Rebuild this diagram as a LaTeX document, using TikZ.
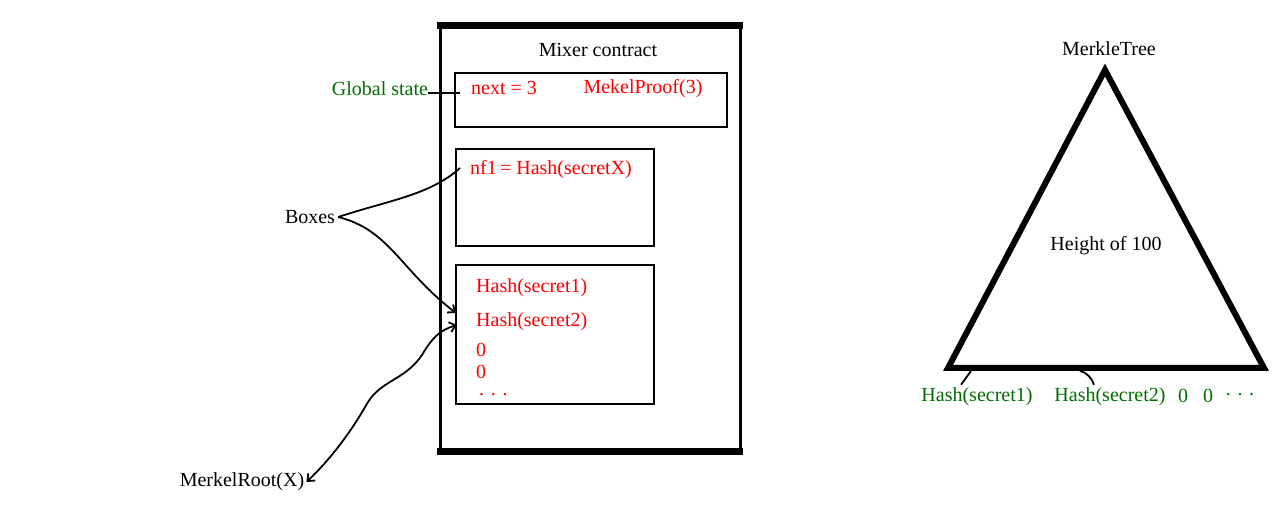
\documentclass[tikz,border=0pt]{standalone}
\usepackage{fontspec}
\setmainfont{Liberation Serif}
\usetikzlibrary{arrows.meta, positioning, calc}
\definecolor{stategreen}{RGB}{0,110,0}
\definecolor{valred}{RGB}{255,0,0}

\begin{document}
\begin{tikzpicture}[
    x=1pt, y=-1pt,
    every node/.style={font=\fontsize{20}{24}\selectfont, inner sep=0pt},
    box/.style={draw, line width=2pt, minimum width=#1, anchor=north west, inner sep=0pt},
    val/.style={text=valred},
    lbl/.style={text=black},
    glbl/.style={text=stategreen},
    wire/.style={line width=1.8pt},
    tip/.style={-{Straight Barb[length=6pt,width=10pt]}}
]
  \useasboundingbox (0,0) rectangle (1283,526);

  % Mixer contract
  \node[draw, line width=3pt, minimum width=300pt, minimum height=426pt, anchor=north west] (contract) at (438.5,24.5) {};
  \draw[line width=7pt] ($(contract.north west)+(-1.5,1.5)$) -- ($(contract.north east)+(1.5,1.5)$);
  \draw[line width=7pt] ($(contract.south west)+(-1.5,-1.5)$) -- ($(contract.south east)+(1.5,-1.5)$);
  \node[lbl] (title) at (598,50) {Mixer contract};

  % Global state box
  \node[box=272pt, minimum height=54pt] (gstate) at (454,72) {};
  \node[val] (next) at (504,88) {next = 3};
  \node[val] (proof) at (643,89) {MekelProof(3)};

  % Nullifier box
  \node[box=198pt, minimum height=97pt] (nfbox) at (455,148) {};
  \node[val] (nf) at (551,170) {nf1\,= Hash(secretX)};

  % Hash list box
  \node[box=198pt, minimum height=139pt] (hbox) at (455,264) {};
  \node[val, anchor=west] (h1) at (476,288) {Hash(secret1)};
  \node[val, anchor=west] (h2) at (476,322) {Hash(secret2)};
  \node[val, anchor=west] (z1) at (476,350) {0};
  \node[val, anchor=west] (z2) at (476,372) {0};
  \node[val, anchor=west, text height=3pt, text depth=0pt] (dots) at (479,394) {. . .};

  % Labels on the left
  \node[glbl] (gs) at (380,89) {Global state};
  \node[lbl, inner xsep=3pt] (boxes) at (310,217) {Boxes};
  \node[lbl, inner xsep=2pt] (root) at (242,482) {MerkelRoot(X)};

  \coordinate (gsend) at (460,93);
  \coordinate (nfend) at (460,168);
  \coordinate (hend) at (456,313);
  \coordinate (rend) at (457,325);

  \draw[wire] (gs.east |- gsend) -- (gsend);
  \draw[wire] (boxes.east) .. controls (390,200) and (430,195) .. (nfend);
  \draw[wire, tip] (boxes.east) .. controls (390,230) and (400,270) .. (hend);
  \draw[wire, {Straight Barb[length=6pt,width=10pt]}-{Straight Barb[length=6pt,width=10pt]}]
    (root.east) .. controls (335,455) and (355,425) .. (368,402)
    .. controls (382,380) and (405,380) .. (422,355)
    .. controls (432,338) and (440,330) .. (rend);

  % Merkle tree
  \coordinate (apex) at (1105,70);
  \coordinate (bl) at (948,368);
  \coordinate (br) at (1264,368);
  \draw[line width=6pt, line join=miter] (apex) -- (br) -- (bl) -- cycle;
  \node[lbl] (mt) at (1109,49) {MerkleTree};
  \node[lbl] (height) at (1106,246) {Height of 100};

  \node[glbl] (l1) at (977,397) {Hash(secret1)};
  \node[glbl] (l2) at (1110,397) {Hash(secret2)};
  \node[glbl] (l3) at (1183,396) {0};
  \node[glbl] (l4) at (1208,396) {0};
  \node[glbl] (l5) at (1240,395) {. . .};

  \draw[wire] ($(l1.north)+(-16,-3)$) -- (971,371);
  \draw[wire] ($(l2.north)+(-16,-3)$) .. controls (1092,378) and (1086,372) .. (1080,371);
\end{tikzpicture}
\end{document}
